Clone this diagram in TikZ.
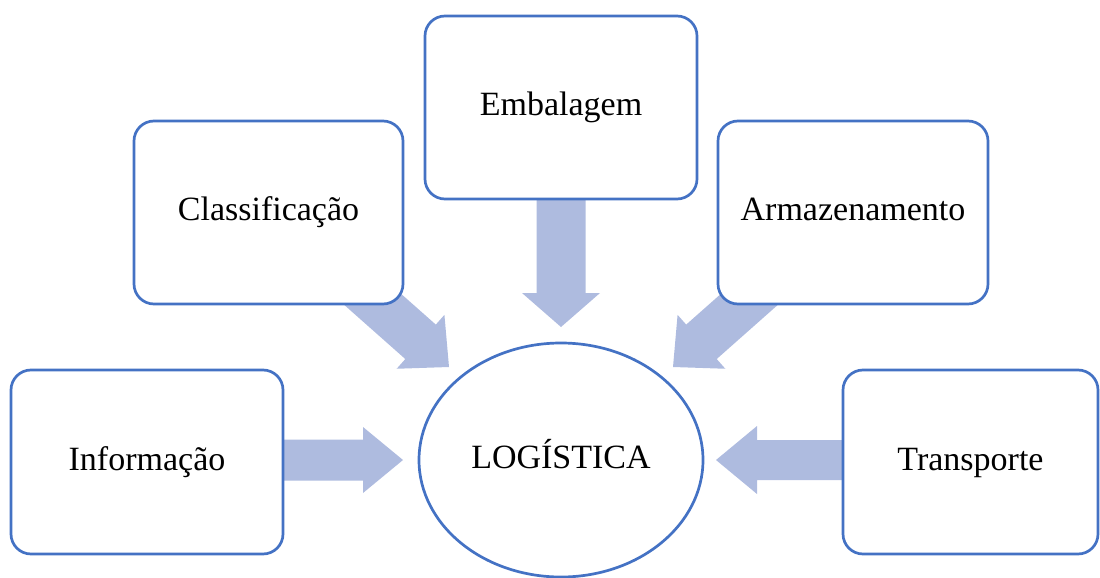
\documentclass[tikz,border=0pt]{standalone}
\usepackage{fontspec}
\setmainfont{Liberation Serif}
\usetikzlibrary{calc,shapes.geometric}

\definecolor{edgeblue}{HTML}{4472C4}
\definecolor{arrowblue}{HTML}{AEBBDF}

% block arrow from #1 to tip #2: shaft half-width #3, head half-width #4, head length #5
\newcommand{\blockarrow}[5]{%
  \path ($(#2)!#5!(#1)$) coordinate (ba-base);
  \fill[flowarrow]
    ($(#1)!#3!90:(#2)$) -- ($(ba-base)!#3!90:(#2)$) -- ($(ba-base)!#4!90:(#2)$)
    -- (#2)
    -- ($(ba-base)!#4!-90:(#2)$) -- ($(ba-base)!#3!-90:(#2)$) -- ($(#1)!#3!-90:(#2)$)
    -- cycle;
}

\tikzset{
  labeltext/.style={font=\fontsize{34}{40}\selectfont, text height=23pt, text depth=7pt, inner sep=0pt},
  topic/.style={labeltext, draw=edgeblue, line width=2.7pt, fill=white,
    rounded corners=20pt},
  hub/.style={labeltext, ellipse, draw=edgeblue, line width=2.7pt, fill=white,
    minimum width=284pt, minimum height=234pt},
  flowarrow/.style={fill=arrowblue},
}

\begin{document}
\begin{tikzpicture}[x=1pt,y=-1pt]
  \useasboundingbox (0,0) rectangle (1100,578);

  % positions of the central hub and the surrounding topics
  \coordinate (pInfo)  at (147,462);
  \coordinate (pClas)  at (268.5,212.5);
  \coordinate (pEmb)   at (561,107.5);
  \coordinate (pArm)   at (853,212.5);
  \coordinate (pTrans) at (970.5,462);
  \coordinate (pHub)   at (561,460);

  % arrow ends (tails sit under the boxes)
  \coordinate (infoStart)  at (282,460);
  \coordinate (infoTip)    at (403,460);
  \coordinate (transStart) at (844,460);
  \coordinate (transTip)   at (716,460);
  \coordinate (embStart)   at (561,190);
  \coordinate (embTip)     at (561,327);
  \coordinate (clasStart)  at (344,274);
  \coordinate (clasTip)    at (449,367);
  \coordinate (armStart)   at (778,274);
  \coordinate (armTip)     at (673,367);

  \blockarrow{infoStart}{infoTip}{20.5pt}{33pt}{40pt}
  \blockarrow{transStart}{transTip}{20pt}{34pt}{41pt}
  \blockarrow{embStart}{embTip}{24.5pt}{39pt}{34pt}
  \blockarrow{clasStart}{clasTip}{23pt}{36pt}{38pt}
  \blockarrow{armStart}{armTip}{23pt}{36pt}{38pt}

  \node[hub] (hub) at (pHub) {LOGÍSTICA};
  \node[topic, minimum width=272pt, minimum height=184pt] (info)  at (pInfo)  {Informação};
  \node[topic, minimum width=269pt, minimum height=183pt] (clas)  at (pClas)  {Classificação};
  \node[topic, minimum width=272pt, minimum height=183pt] (emb)   at (pEmb)   {Embalagem};
  \node[topic, minimum width=270pt, minimum height=183pt] (arm)   at (pArm)   {Armazenamento};
  \node[topic, minimum width=255pt, minimum height=184pt] (trans) at (pTrans) {Transporte};
\end{tikzpicture}
\end{document}
